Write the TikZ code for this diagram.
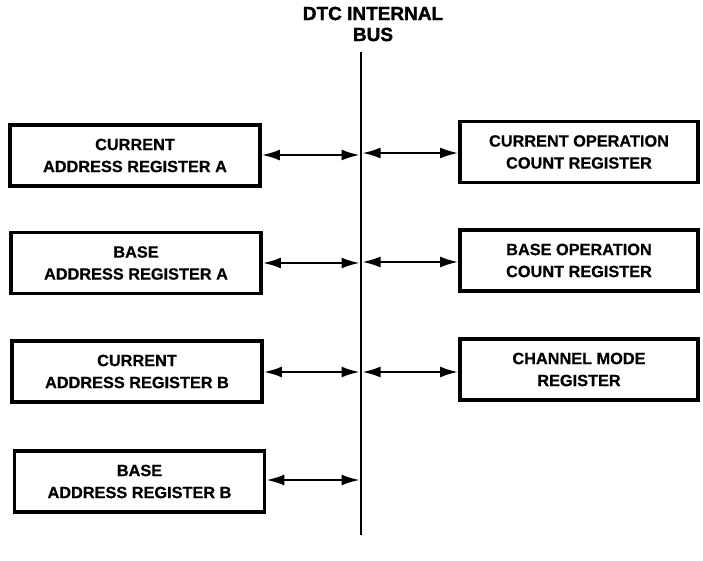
\documentclass[tikz,border=0pt]{standalone}
\usepackage{fontspec}
\setmainfont{Liberation Sans}
\usetikzlibrary{arrows.meta}
\begin{document}
\begin{tikzpicture}[x=1pt,y=-1pt,
  reg/.style={draw, line width=3.8pt, align=center, inner sep=0pt,
    font=\bfseries\fontsize{16.3}{22}\selectfont\addfontfeatures{FakeBold=0.6}},
  lreg/.style={reg, minimum width=250pt, minimum height=61pt},
  rreg/.style={reg, minimum width=238pt, minimum height=61pt},
  link/.style={line width=2.2pt, {Latex[length=18pt,width=11pt]}-{Latex[length=18pt,width=11pt]}},
  title/.style={font=\bfseries\fontsize{19}{21}\selectfont\addfontfeatures{FakeBold=1.6}, align=center}]
\useasboundingbox (0,0) rectangle (703,561);

% bus
\coordinate (bustop) at (361,52);
\coordinate (busbot) at (361,535);
\draw[line width=2.5pt] (bustop) -- (busbot);
\node[title] (ttl) at (373,24) {DTC INTERNAL\\BUS};

% left registers
\node[lreg] (l1) at (135,155.5) {CURRENT\\ADDRESS REGISTER A};
\node[lreg] (l2) at (136,263) {BASE\\ADDRESS REGISTER A};
\node[lreg] (l3) at (137,371.5) {CURRENT\\ADDRESS REGISTER B};
\node[lreg] (l4) at (139.5,481.5) {BASE\\ADDRESS REGISTER B};

% right registers
\node[rreg] (r1) at (579,152) {CURRENT OPERATION\\COUNT REGISTER};
\node[rreg] (r2) at (579,260.5) {BASE OPERATION\\COUNT REGISTER};
\node[rreg] (r3) at (579,369.5) {CHANNEL MODE\\REGISTER};

% bus taps
\coordinate (bl1) at (359.5,155);
\coordinate (bl2) at (359.5,263);
\coordinate (bl3) at (359.5,372);
\coordinate (bl4) at (359.5,480);
\coordinate (br1) at (362.5,153);
\coordinate (br2) at (362.5,262);
\coordinate (br3) at (362.5,372);

\draw[link] (l1.east |- bl1) -- (bl1);
\draw[link] (l2.east |- bl2) -- (bl2);
\draw[link] (l3.east |- bl3) -- (bl3);
\draw[link] (l4.east |- bl4) -- (bl4);
\draw[link] (br1) -- (r1.west |- br1);
\draw[link] (br2) -- (r2.west |- br2);
\draw[link] (br3) -- (r3.west |- br3);
\end{tikzpicture}
\end{document}
